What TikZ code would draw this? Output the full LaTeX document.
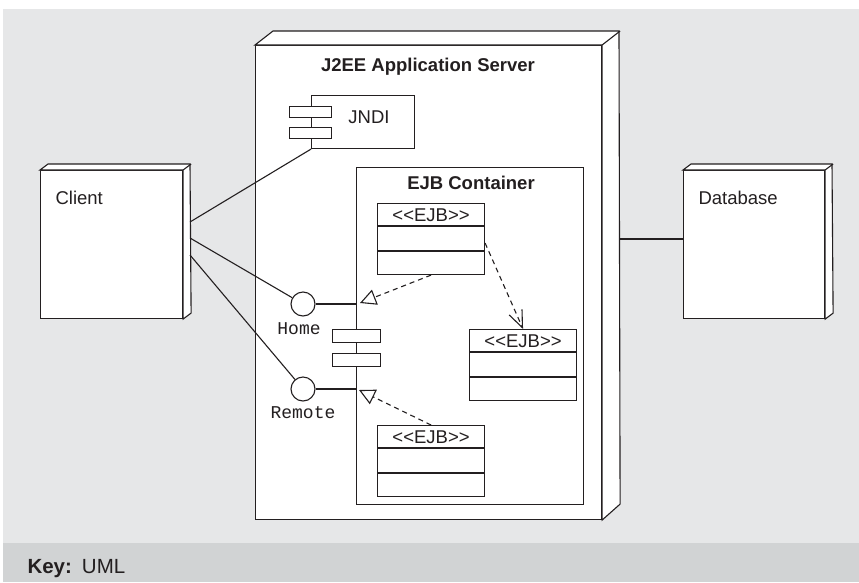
\documentclass[tikz,border=0pt]{standalone}
\usepackage{fontspec}
\setmainfont{Liberation Sans}
\setmonofont{Liberation Mono}
\usetikzlibrary{arrows.meta,calc}
\definecolor{bgA}{HTML}{E6E7E8}
\definecolor{bgKey}{HTML}{D1D3D4}
\definecolor{ink}{HTML}{231F20}
\tikzset{
  box/.style={draw=ink, fill=white, inner sep=0pt, anchor=north west},
  lbl/.style={font=\fontsize{18.5}{22}\selectfont, inner sep=0pt, text=ink},
  ttl/.style={font=\fontsize{18.5}{22}\selectfont\bfseries, inner sep=0pt, text=ink},
  mono/.style={font=\fontsize{18}{22}\selectfont\ttfamily, inner sep=0pt, text=ink},
  iface/.style={circle, draw=ink, fill=white, minimum size=24pt, inner sep=0pt},
  cls/.style={box, minimum width=107pt, minimum height=71pt},
  bar/.style={box, minimum width=42pt, minimum height=11pt},
  cbar/.style={box, minimum width=48pt, minimum height=13pt},
  dsh/.style={draw=ink, dash pattern=on 5pt off 4pt},
  realize/.style={dsh, -{Triangle[open,length=16pt,width=16pt]}},
  depend/.style={dsh, -{Straight Barb[length=17pt,width=14pt]}},
}
\newcommand{\ejbtext}{<\kern0pt<EJB>\kern0pt>}
\begin{document}
\begin{tikzpicture}[x=1pt,y=-1pt,line width=1.1pt,draw=ink]
\useasboundingbox (0,0) rectangle (859,582);
\fill[bgA] (3,9) rectangle (859,543);
\fill[bgKey] (3,543) rectangle (859,582);

% Client node
\node[box, minimum width=142pt, minimum height=148pt] (client) at (40,170) {};
\draw[fill=white] (client.north west) -- ++(8,-6) -- ++(142,0) -- ($(client.south east)+(8,-6)$) -- (client.south east) -- (client.north east) -- cycle;
\draw (client.north east) -- ++(8,-6);
\node[lbl, anchor=base west] (clienttxt) at (55,204) {Client};

% Database node
\node[box, minimum width=141pt, minimum height=148pt] (db) at (683,170) {};
\draw[fill=white] (db.north west) -- ++(8,-6) -- ++(141,0) -- ($(db.south east)+(8,-6)$) -- (db.south east) -- (db.north east) -- cycle;
\draw (db.north east) -- ++(8,-6);
\node[lbl, anchor=base west] (dbtxt) at (698,204) {Database};

% Server node
\node[box, minimum width=346pt, minimum height=474pt] (srv) at (255,45) {};
\draw[fill=white] (srv.north west) -- ++(18,-14) -- ++(346,0) -- ($(srv.south east)+(18,-16)$) -- (srv.south east) -- (srv.north east) -- cycle;
\draw (srv.north east) -- ++(18,-14);
\node[ttl] (srvtxt) at (428,67) {J2EE Application Server};

% JNDI component
\node[box, minimum width=103pt, minimum height=53pt] (jndi) at (311,95) {};
\node[bar] (jb1) at (289,106) {};
\node[bar] (jb2) at (289,126.5) {};
\node[lbl] (jnditxt) at (369,117) {JNDI};

% EJB container
\node[box, minimum width=227pt, minimum height=337pt] (cont) at (356,167) {};
\node[ttl] (conttxt) at (471,183) {EJB Container};

% EJB classes
\node[cls] (e1) at (377,203) {};
\node[cls] (e2) at (469,329) {};
\node[cls] (e3) at (377,425) {};
\foreach \e in {e1,e2,e3}{
  \draw ([yshift=-23pt]\e.north west) -- ([yshift=-23pt]\e.north east);
  \draw ([yshift=-48pt]\e.north west) -- ([yshift=-48pt]\e.north east);
  \node[lbl] at ([yshift=-12pt]\e.north) {\ejbtext};
}

% interfaces
\node[iface] (home) at (303,304) {};
\node[iface] (remote) at (303,389) {};
\node[mono] (hometxt) at (299,329) {Home};
\node[mono] (remotetxt) at (303,413) {Remote};
\draw (home.east) -- (home.east -| cont.west);
\draw (remote.east) -- (remote.east -| cont.west);

% container component bars
\node[cbar] (cb1) at (332,329) {};
\node[cbar] (cb2) at (332,352.5) {};

% client connectors
\coordinate (c1) at (190,222);
\coordinate (c2) at (190,238);
\coordinate (c3) at (190,255);
\draw (c1) -- (jndi.south west);
\draw (c2) -- (home);
\draw (c3) -- (remote);

% database connector
\coordinate (s1) at (619,239);
\draw (s1) -- (s1 -| db.west);

% dependencies
\coordinate (t1) at (360,303);
\coordinate (t2) at (359,390);
\draw[realize] (e1.south) -- (t1);
\draw[realize] (e3.north) -- (t2);
\draw[depend] ([yshift=-4pt]e1.east) -- (e2.north);

% key
\node[font=\fontsize{20.5}{24}\selectfont, inner sep=0pt, anchor=base west, text=ink] (key) at (27,573) {\textbf{Key:}\hspace{10pt}UML};
\end{tikzpicture}
\end{document}
